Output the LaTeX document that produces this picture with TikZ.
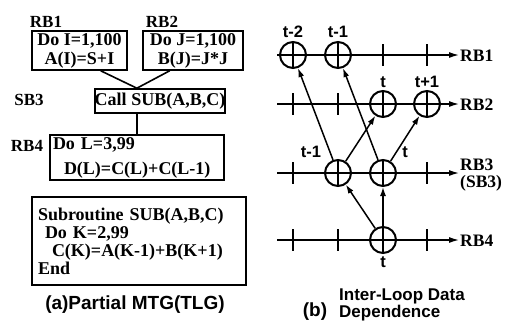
\documentclass[tikz,border=0pt]{standalone}
\usepackage{fontspec}
\setmainfont{Liberation Serif}
\setsansfont{Liberation Sans}
\usetikzlibrary{arrows.meta,calc}
\begin{document}
\begin{tikzpicture}[x=1pt,y=-1pt,
  box/.style={draw,line width=1.6pt,inner sep=0pt,font=\bfseries\fontsize{18}{19}\selectfont},
  lbl/.style={font=\bfseries\fontsize{17}{18}\selectfont,inner sep=0pt},
  rlbl/.style={font=\bfseries\fontsize{17.5}{18}\selectfont,anchor=west,inner sep=1pt},
  tlbl/.style={font=\sffamily\bfseries\fontsize{16.5}{17}\selectfont,inner sep=0pt},
  capt/.style={font=\sffamily\bfseries\fontsize{19}{20}\selectfont,inner sep=0pt},
  conn/.style={line width=1.6pt},
  cir/.style={circle,draw,line width=2pt,minimum size=26pt,inner sep=0pt},
  cross/.style={line width=1.2pt},
  axis/.style={line width=1.3pt,-{Latex[length=10pt,width=6pt]}},
  tickline/.style={line width=1.2pt},
  dep/.style={line width=1.5pt,-{Latex[length=9pt,width=6pt]}}]
\useasboundingbox (0,0) rectangle (510,325);

% ---------- (a) ----------
\node[lbl] (l1) at (46,22) {RB1};
\node[lbl] (l2) at (162,22) {RB2};
\node[lbl] (l3) at (29,100) {SB3};
\node[lbl] (l4) at (27,146) {RB4};

\node[box,minimum width=95pt,minimum height=39pt,align=center] (rb1) at (79.5,50.5) {Do I=1,100\\A(I)=S+I};
\node[box,minimum width=100pt,minimum height=39pt,align=center] (rb2) at (193,50.5) {Do J=1,100\\B(J)=J*J};
\node[box,minimum width=126pt,minimum height=24pt,align=center] (sb3) at (160,101) {Call SUB(A,B,C)};
\node[box,minimum height=45pt,text width=168pt,inner xsep=3pt,align=left,
      font=\bfseries\fontsize{18}{25}\selectfont] (rb4) at (137,157.5)
      {Do L=3,99\\\hspace*{11pt}D(L)=C(L)+C(L-1)};
\node[box,minimum height=88pt,text width=202pt,inner xsep=6pt,align=left,
      font=\bfseries\fontsize{18}{18}\selectfont] (sub) at (139,241)
      {Subroutine SUB(A,B,C)\\\hspace*{7pt}Do K=2,99\\\hspace*{14pt}C(K)=A(K-1)+B(K+1)\\End};

\coordinate (j) at ($(sb3.north west)!0.325!(sb3.north east)$);
\draw[conn] ($(rb1.south west)!0.72!(rb1.south east)$) -- (j);
\draw[conn] ($(rb2.south west)!0.27!(rb2.south east)$) -- (j);
\draw[conn] ($(sb3.south west)!0.325!(sb3.south east)$) -- (j |- rb4.north);

\node[capt] (capa) at (135,305) {(a)Partial MTG(TLG)};

% ---------- (b) ----------
% axes
\coordinate (s1) at (277,55);
\coordinate (s2) at (277,104);
\coordinate (s3) at (277,173);
\coordinate (s4) at (277,240);
\node[rlbl] (r1) at (459,56) {RB1};
\node[rlbl] (r2) at (459,105) {RB2};
\node[rlbl] (r3) at (459,165) {RB3};
\node[rlbl] (r3b) at (459,183) {(SB3)};
\node[rlbl] (r4) at (459,241) {RB4};
\draw[axis] (s1) -- (s1 -| r1.west);
\draw[axis] (s2) -- (s2 -| r2.west);
\draw[axis] (s3) -- (s3 -| r3.west);
\draw[axis] (s4) -- (s4 -| r4.west);

% ticks
\foreach \x in {383,427} \draw[tickline] (\x,44) -- (\x,66);
\foreach \x in {293,338} \draw[tickline] (\x,93) -- (\x,115);
\foreach \x in {293,427} \draw[tickline] (\x,162) -- (\x,184);
\foreach \x in {293,338,427} \draw[tickline] (\x,229) -- (\x,251);

% circles
\node[cir] (a1) at (293,55) {};
\node[cir] (a2) at (338,55) {};
\node[cir] (b3) at (383,104) {};
\node[cir] (b4) at (427,104) {};
\node[cir] (c2) at (338,173) {};
\node[cir] (c3) at (383,173) {};
\node[cir] (d3) at (383,240) {};
\foreach \n in {a1,a2,b3,b4,c2,c3,d3} \draw[cross] (\n.north) -- (\n.south);

% labels
\node[tlbl] (ta1) at (293,32) {t-2};
\node[tlbl] (ta2) at (338,32) {t-1};
\node[tlbl] (tb3) at (383,82) {t};
\node[tlbl] (tb4) at (427,82) {t+1};
\node[tlbl] (tc2) at (311,152) {t-1};
\node[tlbl] (tc3) at (405,152) {t};
\node[tlbl] (td3) at (383,262) {t};

% dependences
\draw[dep] (c2) -- (a1);
\draw[dep] (c3) -- (a2);
\draw[dep] (c2) -- (b3);
\draw[dep] (c3) -- (b4);
\draw[dep] (d3) -- (c2);
\draw[dep] (d3) -- (c3);

\node[capt] (capb) at (315,312) {(b)};
\node[font=\sffamily\bfseries\fontsize{17}{18}\selectfont,anchor=west,inner sep=0pt] (capb1) at (339,296) {Inter-Loop Data};
\node[font=\sffamily\bfseries\fontsize{17}{18}\selectfont,anchor=west,inner sep=0pt] (capb2) at (339,313) {Dependence};
\end{tikzpicture}
\end{document}
